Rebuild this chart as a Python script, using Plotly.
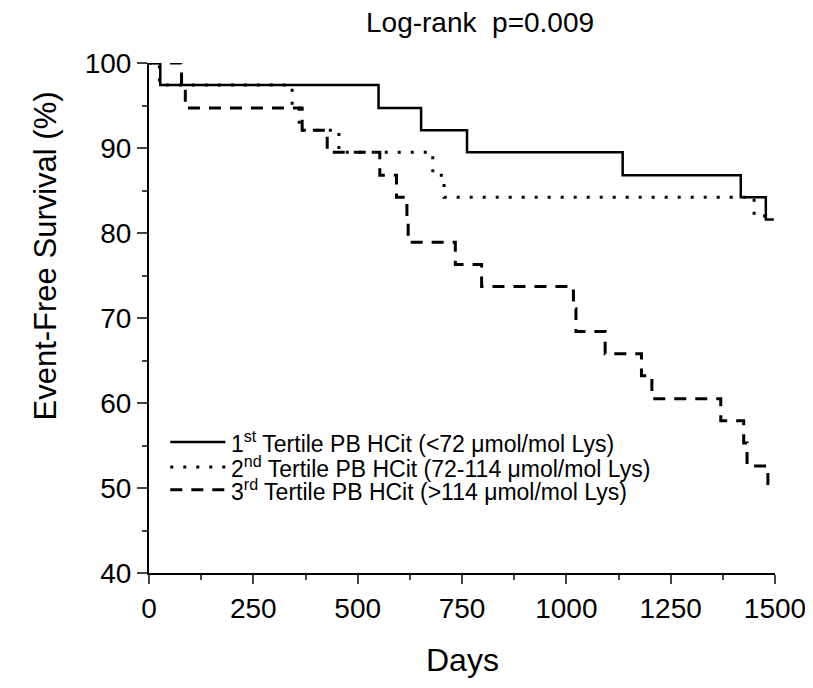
import plotly.graph_objects as go

# ---- data ----
t1_days = [0, 27, 550, 652, 762, 1135, 1418, 1478, 1497]
t1_surv = [100, 97.4, 94.7, 92.1, 89.5, 86.8, 84.2, 81.6, 81.6]

t2_days = [0, 25, 343, 360, 455, 680, 707, 1450, 1497]
t2_surv = [100, 97.4, 94.7, 92.1, 89.5, 86.8, 84.2, 82.0, 82.0]

t3_days = [0, 78, 87, 367, 427, 553, 593, 618, 621, 734, 797, 1017, 1023,
           1093, 1180, 1205, 1370, 1425, 1433, 1483, 1497]
t3_surv = [100, 97.4, 94.7, 92.1, 89.5, 86.8, 84.2, 81.6, 78.9, 76.3, 73.7,
           71.1, 68.4, 65.8, 63.2, 60.5, 57.9, 55.3, 52.6, 50.0, 50.0]

names = [
    "1<sup>st</sup> Tertile PB HCit (&lt;72 \u03bcmol/mol Lys)",
    "2<sup>nd</sup> Tertile PB HCit (72-114 \u03bcmol/mol Lys)",
    "3<sup>rd</sup> Tertile PB HCit (&gt;114 \u03bcmol/mol Lys)",
]
x_ticks = [0, 250, 500, 750, 1000, 1250, 1500]
y_ticks = [40, 50, 60, 70, 80, 90, 100]

FONT = "Arial, Liberation Sans, sans-serif"
styles = [
    dict(color="black", width=2.5, dash="solid"),
    dict(color="black", width=3, dash="3px,10px"),
    dict(color="black", width=3, dash="12px,9px"),
]

fig = go.Figure()
for d, s, nm, st in [(t1_days, t1_surv, names[0], styles[0]),
                     (t2_days, t2_surv, names[1], styles[1]),
                     (t3_days, t3_surv, names[2], styles[2])]:
    fig.add_trace(go.Scatter(x=d, y=s, mode="lines", name=nm,
                             line=dict(shape="hv", **st)))

# legend (drawn inside the plot, like the reference)
leg_y = [0.257, 0.208, 0.163]
shapes = []
annotations = []
for i in range(3):
    shapes.append(dict(type="line", xref="paper", yref="paper",
                       x0=0.034, x1=0.122, y0=leg_y[i], y1=leg_y[i],
                       line=styles[i]))
    annotations.append(dict(text=names[i], xref="paper", yref="paper",
                            x=0.128, y=leg_y[i], xanchor="left", yanchor="middle",
                            showarrow=False, font=dict(size=23, family=FONT)))

annotations += [
    dict(text="Log-rank\u00a0 p=0.009", xref="paper", yref="paper",
         x=0.529, y=1.080, xanchor="center", yanchor="middle",
         showarrow=False, font=dict(size=28, family=FONT)),
    dict(text="Event-Free Survival (%)", xref="paper", yref="paper",
         x=-0.165, y=0.622, xanchor="center", yanchor="middle", textangle=-90,
         showarrow=False, font=dict(size=31, family=FONT)),
    dict(text="Days", xref="paper", yref="paper",
         x=0.5, y=-0.171, xanchor="center", yanchor="middle",
         showarrow=False, font=dict(size=32, family=FONT)),
]

fig.update_layout(
    width=805, height=680,
    margin=dict(l=140.5, r=38, t=55, b=115),
    paper_bgcolor="white", plot_bgcolor="white",
    font=dict(family=FONT, color="black"),
    showlegend=False,
    shapes=shapes,
    annotations=annotations,
)

fig.update_xaxes(range=[0, 1500], tickvals=x_ticks, ticks="outside", ticklen=9,
                 tickwidth=2, showline=True, linewidth=2, linecolor="black",
                 showgrid=False, zeroline=False, tickfont=dict(size=28, family=FONT),
                 automargin=False,
                 minor=dict(ticks="outside", ticklen=5, tickwidth=2, dtick=125, tick0=0,
                            showgrid=False))
fig.update_yaxes(range=[40, 100], tickvals=y_ticks, ticks="outside", ticklen=10,
                 tickwidth=2, showline=True, linewidth=2, linecolor="black",
                 showgrid=False, zeroline=False, tickfont=dict(size=28, family=FONT),
                 automargin=False,
                 minor=dict(ticks="outside", ticklen=5, tickwidth=2, dtick=5, tick0=0,
                            showgrid=False))

fig.write_html("out.html")
